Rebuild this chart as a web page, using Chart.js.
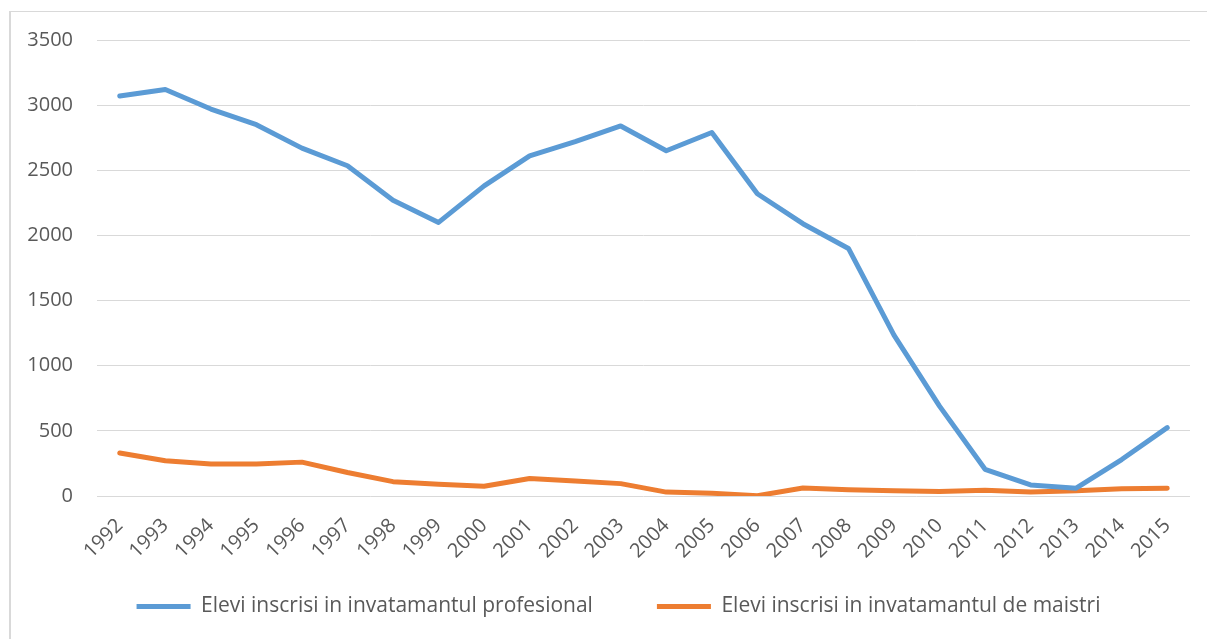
<!DOCTYPE html>
<html>
<head>
<meta charset="utf-8">
<script src="https://cdn.jsdelivr.net/npm/chart.js@4"></script>
<style>
  body { margin: 0; background: #fff; }
  #wrap { position: relative; width: 1207px; height: 639px; }
  #frame { position: absolute; left: 9px; top: 11px; width: 1198px; height: 628px;
           border-top: 1px solid #d9d9d9; border-left: 2px solid #d9d9d9; box-sizing: border-box; }
  canvas { position: absolute; left: 0; top: 0; }
</style>
</head>
<body>
<div id="wrap">
  <div id="frame"></div>
  <canvas id="myChart" width="1207" height="639"></canvas>
</div>
<script>
var years = ['1992', '1993', '1994', '1995', '1996', '1997', '1998', '1999', '2000', '2001', '2002', '2003',
             '2004', '2005', '2006', '2007', '2008', '2009', '2010', '2011', '2012', '2013', '2014', '2015'];
var profesional = [3070, 3120, 2970, 2850, 2670, 2535, 2270, 2100, 2380, 2610, 2720, 2840,
                   2650, 2790, 2320, 2090, 1900, 1235, 690, 205, 85, 60, 280, 525];
var maistri = [330, 270, 245, 245, 260, 180, 110, 90, 75, 135, 115, 95,
               30, 22, 2, 62, 48, 40, 35, 45, 30, 40, 55, 60];
var yTicks = { min: 0, max: 3500, step: 500 };

var fontFamily = "'Open Sans', 'Noto Sans', sans-serif";
var textColor = '#595959';

// wide gap between the two legend items without a tall legend box
var legendGap = {
    id: 'legendGap',
    afterInit: function (chart) {
        var legend = chart.legend;
        var fit = legend.fit;
        legend.fit = function () {
            fit.call(this);
            this.height = 52;
        };
    },
    afterLayout: function (chart) {
        var legend = chart.legend;
        legend.top = 532;
        legend.left += 19;
        legend.right += 19;
    }
};

var ctx = document.getElementById('myChart').getContext('2d');
var myChart = new Chart(ctx, {
    type: 'line',
    data: {
        labels: years,
        datasets: [{
            label: 'Elevi inscrisi in invatamantul profesional',
            data: profesional,
            borderColor: '#5b9bd5',
            backgroundColor: '#5b9bd5',
            borderWidth: 5,
            borderCapStyle: 'round',
            borderJoinStyle: 'round',
            pointRadius: 0,
            tension: 0
        }, {
            label: 'Elevi inscrisi in invatamantul de maistri',
            data: maistri,
            borderColor: '#ed7d31',
            backgroundColor: '#ed7d31',
            borderWidth: 5,
            borderCapStyle: 'round',
            borderJoinStyle: 'round',
            pointRadius: 0,
            tension: 0
        }]
    },
    options: {
        responsive: false,
        animation: false,
        layout: {
            padding: { left: 9, right: 17, top: 40, bottom: 12 }
        },
        scales: {
            x: {
                offset: true,
                grid: { display: false, drawTicks: false },
                border: { display: false },
                ticks: {
                    color: textColor,
                    font: { family: fontFamily, size: 20 },
                    maxRotation: 45,
                    minRotation: 45,
                    padding: 18
                },
                afterFit: function (scale) { scale.height = 79; }
            },
            y: {
                min: yTicks.min,
                max: yTicks.max,
                grid: { color: '#d9d9d9', lineWidth: 1, drawTicks: false },
                border: { display: false },
                ticks: {
                    stepSize: yTicks.step,
                    color: textColor,
                    font: { family: fontFamily, size: 20 },
                    padding: 24,
                    callback: function (v) { return String(v); }
                },
                afterFit: function (scale) { scale.width = 88; }
            }
        },
        plugins: {
            legend: {
                position: 'bottom',
                labels: {
                    color: textColor,
                    font: { family: fontFamily, size: 21 },
                    boxWidth: 54,
                    boxHeight: 5,
                    padding: 64,
                    generateLabels: function (chart) {
                        var items = Chart.defaults.plugins.legend.labels.generateLabels(chart);
                        items.forEach(function (it) { it.lineWidth = 0; });
                        return items;
                    }
                }
            },
            tooltip: { enabled: false }
        }
    },
    plugins: [legendGap]
});
</script>
</body>
</html>
